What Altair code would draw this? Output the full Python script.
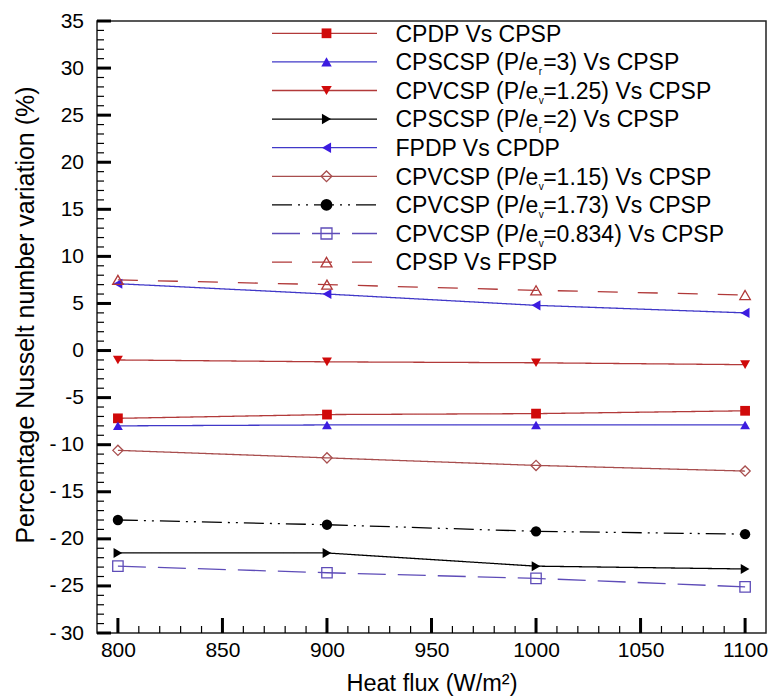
import altair as alt
import pandas as pd

# ---------------- data ----------------
heat_flux = [800, 900, 1000, 1100]

cpdp_vs_cpsp = [-7.2, -6.8, -6.7, -6.4]
cpscsp3_vs_cpsp = [-8.0, -7.9, -7.9, -7.9]
cpvcsp125_vs_cpsp = [-1.0, -1.2, -1.3, -1.5]
cpscsp2_vs_cpsp = [-21.5, -21.5, -22.9, -23.2]
fpdp_vs_cpdp = [7.1, 6.0, 4.8, 4.0]
cpvcsp115_vs_cpsp = [-10.6, -11.4, -12.2, -12.8]
cpvcsp173_vs_cpsp = [-18.0, -18.5, -19.2, -19.5]
cpvcsp0834_vs_cpsp = [-22.9, -23.6, -24.2, -25.1]
cpsp_vs_fpsp = [7.5, 7.0, 6.4, 5.9]

keys = ["s1", "s2", "s3", "s4", "s5", "s6", "s7", "s8", "s9"]
series_values = [cpdp_vs_cpsp, cpscsp3_vs_cpsp, cpvcsp125_vs_cpsp, cpscsp2_vs_cpsp,
                 fpdp_vs_cpdp, cpvcsp115_vs_cpsp, cpvcsp173_vs_cpsp,
                 cpvcsp0834_vs_cpsp, cpsp_vs_fpsp]
# legend label parts: (before subscript, subscript, after subscript)
label_parts = [
    ("CPDP Vs CPSP", "", ""),
    ("CPSCSP (P/e", "r", "=3) Vs CPSP"),
    ("CPVCSP (P/e", "v", "=1.25) Vs CPSP"),
    ("CPSCSP (P/e", "r", "=2) Vs CPSP"),
    ("FPDP Vs CPDP", "", ""),
    ("CPVCSP (P/e", "v", "=1.15) Vs CPSP"),
    ("CPVCSP (P/e", "v", "=1.73) Vs CPSP"),
    ("CPVCSP (P/e", "v", "=0.834) Vs CPSP"),
    ("CPSP Vs FPSP", "", ""),
]

# ---------------- styles ----------------
RED_LINE = "#B23A3A"
RED_FILL = "#D00A0A"
BLUE_LINE = "#4038C8"
BLUE_FILL = "#3C1CE0"
line_cols = [RED_LINE, BLUE_LINE, RED_LINE, "#000000", BLUE_LINE, "#A84E4E", "#000000", "#5E4CB8", "#B03838"]
marker_cols = [RED_FILL, BLUE_FILL, RED_FILL, "#000000", BLUE_FILL, "#A84E4E", "#000000", "#6248B0", "#B03838"]
shapes = ["square", "triangle-up", "triangle-down", "triangle-right", "triangle-left",
          "diamond", "circle", "square", "triangle-up"]
sizes = [95, 110, 110, 110, 110, 115, 140, 120, 120]
filled = [True, True, True, True, True, False, True, False, False]
dashes = [[1, 0], [1, 0], [1, 0], [1, 0], [1, 0], [1, 0], [20, 6, 2, 6, 2, 6], [28, 12], [20, 20]]

rows = []
for k, vals in zip(keys, series_values):
    for xv, yv in zip(heat_flux, vals):
        rows.append({"s": k, "x": xv, "y": yv})
df = pd.DataFrame(rows)

FONT = "Liberation Sans"
W, H = 669, 612

xscale = alt.Scale(domain=[790, 1110], nice=False, zero=False)
yscale = alt.Scale(domain=[-30, 35], nice=False, zero=False)

yaxis = alt.Axis(
    values=list(range(-30, 36, 5)), ticks=False, tickSize=0, domain=False, grid=False,
    labelFontSize=21, labelFont=FONT, labelColor="black", labelPadding=13.5,
    labelExpr="datum.value < -9 ? '-\u2009' + (-datum.value) : (datum.value < 0 ? '-' + (-datum.value) : '' + datum.value)",
    title="Percentage Nusselt number variation (%)", titleFontSize=25, titleFont=FONT,
    titleFontWeight="normal", titleColor="black", titleX=-64, titleY=293.5,
    titleAngle=270, titleAlign="center", titleBaseline="alphabetic",
)
xaxis = alt.Axis(
    values=list(range(800, 1101, 50)), format="d", ticks=False, tickSize=0, domain=False,
    grid=False, labelFontSize=21, labelFont=FONT, labelColor="black", labelPadding=6.5,
    title="Heat flux (W/m\u00b2)", titleFontSize=23.5, titleFont=FONT, titleFontWeight="normal",
    titleColor="black", titleY=57, titleBaseline="alphabetic",
)

base = alt.Chart(df)
lines = base.mark_line(strokeWidth=1.3).encode(
    x=alt.X("x:Q", scale=xscale, axis=xaxis),
    y=alt.Y("y:Q", scale=yscale, axis=yaxis),
    stroke=alt.Stroke("s:N", scale=alt.Scale(domain=keys, range=line_cols), legend=None),
    strokeDash=alt.StrokeDash("s:N", scale=alt.Scale(domain=keys, range=dashes), legend=None),
)

filled_keys = [k for k, f in zip(keys, filled) if f]
open_keys = [k for k, f in zip(keys, filled) if not f]

pts_filled = base.transform_filter(
    alt.FieldOneOfPredicate(field="s", oneOf=filled_keys)
).mark_point(filled=True, opacity=1, strokeWidth=0).encode(
    x="x:Q", y="y:Q",
    fill=alt.Fill("s:N", scale=alt.Scale(domain=keys, range=marker_cols), legend=None),
    shape=alt.Shape("s:N", scale=alt.Scale(domain=keys, range=shapes), legend=None),
    size=alt.Size("s:N", scale=alt.Scale(domain=keys, range=sizes), legend=None),
)
pts_open = base.transform_filter(
    alt.FieldOneOfPredicate(field="s", oneOf=open_keys)
).mark_point(filled=False, opacity=1, strokeWidth=1.3).encode(
    x="x:Q", y="y:Q",
    stroke=alt.Stroke("s:N", scale=alt.Scale(domain=keys, range=line_cols), legend=None),
    shape=alt.Shape("s:N", scale=alt.Scale(domain=keys, range=shapes), legend=None),
    size=alt.Size("s:N", scale=alt.Scale(domain=keys, range=sizes), legend=None),
)

# ---------------- inward ticks ----------------
y_major = list(range(-30, 36, 5))
y_minor = [v for v in range(-30, 36) if v % 5 != 0]
x_major = list(range(800, 1101, 50))
x_minor = [v for v in range(800, 1101, 10) if v % 50 != 0]

ytick_major = alt.Chart(pd.DataFrame({"v": y_major})).mark_rule(color="black", strokeWidth=3).encode(
    y=alt.Y("v:Q", scale=yscale), x=alt.value(0), x2=alt.value(14))
ytick_minor = alt.Chart(pd.DataFrame({"v": y_minor})).mark_rule(color="black", strokeWidth=1.2).encode(
    y=alt.Y("v:Q", scale=yscale), x=alt.value(0), x2=alt.value(7))
xtick_major = alt.Chart(pd.DataFrame({"v": x_major})).mark_rule(color="black", strokeWidth=3).encode(
    x=alt.X("v:Q", scale=xscale), y=alt.value(H), y2=alt.value(H - 15))
xtick_minor = alt.Chart(pd.DataFrame({"v": x_minor})).mark_rule(color="black", strokeWidth=1.2).encode(
    x=alt.X("v:Q", scale=xscale), y=alt.value(H), y2=alt.value(H - 7))

# ---------------- legend (manual) ----------------
ARIAL = {'C': 722, 'P': 667, 'S': 667, 'V': 667, 'D': 722, 'F': 611, ' ': 278, '(': 333,
         ')': 333, '/': 278, 'e': 556, 's': 500, '=': 584, '.': 278}
def text_w(t, fs):
    return sum(ARIAL.get(c, 556) for c in t) / 1000.0 * fs

LEG_FS = 23
LEG_Y0 = 12.3
LEG_DY = 28.6
LX1, LX2, LM, LT = 175, 280, 229.5, 298.5
one = alt.InlineData(values=[{"k": 0}])
legend_layers = []
for i in range(len(keys)):
    yy = LEG_Y0 + LEG_DY * i
    rule_kw = dict(stroke=line_cols[i], strokeWidth=1.3)
    if dashes[i] != [1, 0]:
        rule_kw["strokeDash"] = dashes[i]
    legend_layers.append(alt.Chart(one).mark_rule(**rule_kw).encode(
        x=alt.value(LX1), x2=alt.value(LX2), y=alt.value(yy)))
    if filled[i]:
        pm = alt.Chart(one).mark_point(shape=shapes[i], size=sizes[i], filled=True, fill=marker_cols[i],
                                       strokeWidth=0, opacity=1)
    else:
        pm = alt.Chart(one).mark_point(shape=shapes[i], size=sizes[i], filled=False, stroke=line_cols[i],
                                       strokeWidth=1.3, opacity=1)
    legend_layers.append(pm.encode(x=alt.value(LM), y=alt.value(yy)))
    p1, sub, p2 = label_parts[i]
    legend_layers.append(alt.Chart(one).mark_text(
        text=p1, align="left", baseline="alphabetic", fontSize=LEG_FS, font=FONT, color="black"
    ).encode(x=alt.value(LT), y=alt.value(yy + 8.3)))
    if sub:
        xs = LT + text_w(p1, LEG_FS)
        legend_layers.append(alt.Chart(one).mark_text(
            text=sub, align="left", baseline="alphabetic", fontSize=10, font=FONT, color="black"
        ).encode(x=alt.value(xs), y=alt.value(yy + 13.5)))
        legend_layers.append(alt.Chart(one).mark_text(
            text=p2, align="left", baseline="alphabetic", fontSize=LEG_FS, font=FONT, color="black"
        ).encode(x=alt.value(xs + 4.5), y=alt.value(yy + 8.3)))

chart = alt.layer(
    lines, pts_filled, pts_open,
    ytick_major, ytick_minor, xtick_major, xtick_minor,
    *legend_layers
).properties(
    width=W, height=H,
    padding={"left": 97, "top": 21, "right": 8, "bottom": 65},
    autosize=alt.AutoSizeParams(type="none"),
    background="white",
).configure_view(
    stroke="#222222", strokeWidth=1.5
)

chart.save("out.html", embed_options={"renderer": "svg", "actions": False})
